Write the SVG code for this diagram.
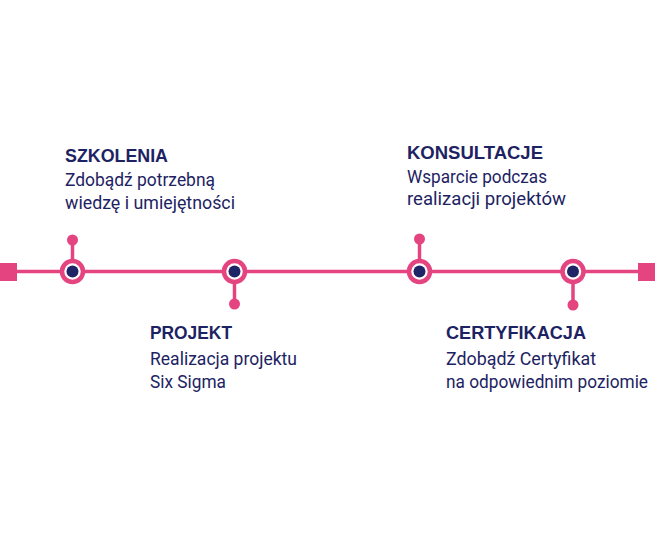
<svg xmlns="http://www.w3.org/2000/svg" width="655" height="540" viewBox="0 0 655 540">
<style>
.t{font-family:"Liberation Sans",Arial,sans-serif;font-weight:700;font-size:17.5px;fill:#1d2362}
.s{font-family:Roboto,"Liberation Sans",sans-serif;font-weight:400;font-size:18.5px;fill:#1d2362}
.ln{stroke:#e4447f;stroke-width:3.5;fill:none}
.ring{fill:#fff;stroke:#e4447f;stroke-width:4.5}
.dot{fill:#1f2466}
.pk{fill:#e4447f}
</style>
<rect width="655" height="540" fill="#fff"/>
<g id="connectors">
<line class="ln" x1="10" y1="271.5" x2="645" y2="271.5"/>
<rect class="pk" x="0" y="263" width="17" height="18"/>
<rect class="pk" x="638" y="263" width="17" height="18"/>
<line class="ln" x1="72.5" y1="240" x2="72.5" y2="260"/>
<line class="ln" x1="234.5" y1="283" x2="234.5" y2="304"/>
<line class="ln" x1="419.5" y1="239" x2="419.5" y2="260"/>
<line class="ln" x1="573" y1="283" x2="573" y2="305"/>
</g>
<g id="node1">
<circle class="pk" cx="72.5" cy="240" r="5.5"/>
<circle class="ring" cx="72.5" cy="271.5" r="10.5"/>
<circle class="dot" cx="72.5" cy="271.5" r="6"/>
<text class="t" x="65" y="162" textLength="103" lengthAdjust="spacingAndGlyphs">SZKOLENIA</text>
<text class="s" x="65" y="186" textLength="150" lengthAdjust="spacingAndGlyphs">Zdobądź potrzebną</text>
<text class="s" x="65" y="209" textLength="170" lengthAdjust="spacingAndGlyphs">wiedzę i umiejętności</text>
</g>
<g id="node2">
<circle class="pk" cx="234.5" cy="304" r="5.5"/>
<circle class="ring" cx="234.5" cy="271.5" r="10.5"/>
<circle class="dot" cx="234.5" cy="271.5" r="6"/>
<text class="t" x="150" y="339" textLength="82" lengthAdjust="spacingAndGlyphs">PROJEKT</text>
<text class="s" x="150" y="365" textLength="147" lengthAdjust="spacingAndGlyphs">Realizacja projektu</text>
<text class="s" x="150" y="388" textLength="76" lengthAdjust="spacingAndGlyphs">Six Sigma</text>
</g>
<g id="node3">
<circle class="pk" cx="419.5" cy="239" r="5.5"/>
<circle class="ring" cx="419.5" cy="271.5" r="10.5"/>
<circle class="dot" cx="419.5" cy="271.5" r="6"/>
<text class="t" x="407" y="159" textLength="136" lengthAdjust="spacingAndGlyphs">KONSULTACJE</text>
<text class="s" x="407" y="183" textLength="140" lengthAdjust="spacingAndGlyphs">Wsparcie podczas</text>
<text class="s" x="407" y="205" textLength="159" lengthAdjust="spacingAndGlyphs">realizacji projektów</text>
</g>
<g id="node4">
<circle class="pk" cx="573" cy="305" r="5.5"/>
<circle class="ring" cx="573" cy="271.5" r="10.5"/>
<circle class="dot" cx="573" cy="271.5" r="6"/>
<text class="t" x="446" y="339" textLength="140" lengthAdjust="spacingAndGlyphs">CERTYFIKACJA</text>
<text class="s" x="446" y="365" textLength="150" lengthAdjust="spacingAndGlyphs">Zdobądź Certyfikat</text>
<text class="s" x="446" y="388" textLength="202" lengthAdjust="spacingAndGlyphs">na odpowiednim poziomie</text>
</g>
</svg>
